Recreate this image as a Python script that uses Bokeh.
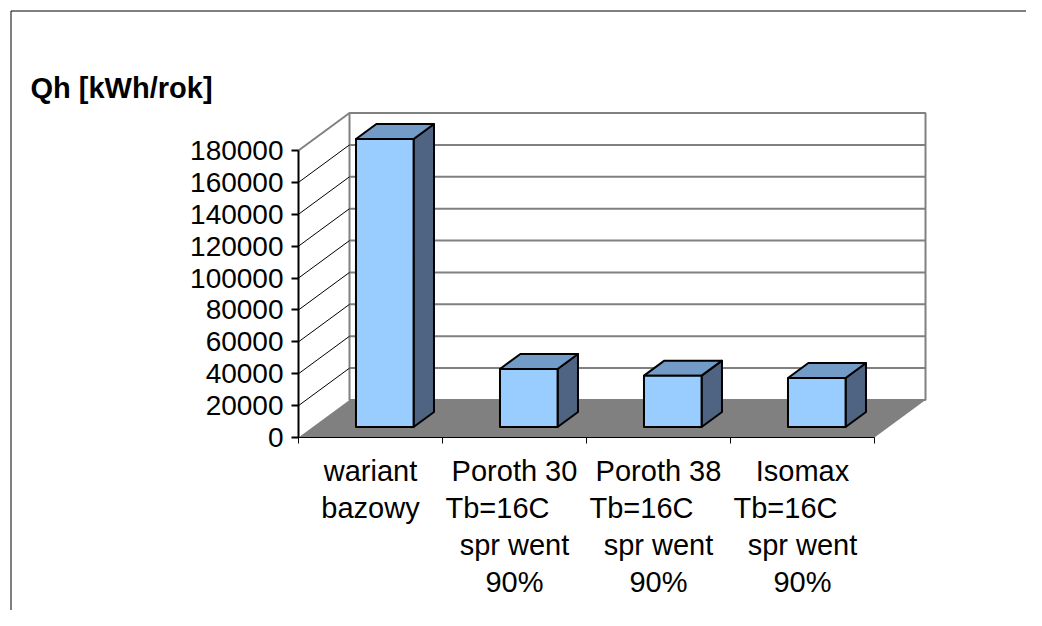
from bokeh.plotting import figure
from bokeh.models import Range1d, FixedTicker, BasicTickFormatter, ColumnDataSource
from bokeh.core.properties import value
from bokeh.embed import file_html
from bokeh.resources import INLINE

# ---------------- data ----------------
category_lines = [
    ["wariant", "bazowy"],
    ["Poroth 30", "Tb=16C", "spr went", "90%"],
    ["Poroth 38", "Tb=16C", "spr went", "90%"],
    ["Isomax", "Tb=16C", "spr went", "90%"],
]
values = [180600, 36400, 32200, 30700]
y_ticks = [0, 20000, 40000, 60000, 80000, 100000, 120000, 140000, 160000, 180000]
y_title = "Qh [kWh/rok]"

# ---------------- geometry / style ----------------
FONT = "Liberation Sans"
W, H = 1026, 610
X0, Y0 = 298.0, 437.0          # pixel position of the value/category origin
CAT_PX = 144.0                 # pixels per category
UNIT_PX = 287.0 / 180000.0     # pixels per value unit
DEPTH_PX = (51.0, 37.5)        # 3d depth offset in pixels
TEXT_FIX = -10.0               # baseline correction for text glyphs (px)

n = len(values)
y_max = y_ticks[-1]
DX = DEPTH_PX[0] / CAT_PX
DY = DEPTH_PX[1] / UNIT_PX


def px_x(px):
    return (px - X0) / CAT_PX


def px_y(px):
    return (Y0 - px) / UNIT_PX


FRONT_C = "#99CCFF"
TOP_C = "#739BC8"
SIDE_C = "#4F6482"
WALL_LINE = "#808080"
FLOOR_C = "#808080"

p = figure(width=W, height=H,
           x_range=Range1d(px_x(0), px_x(W)), y_range=Range1d(px_y(H), px_y(0)),
           output_backend="svg", toolbar_location=None,
           min_border=0, min_border_left=0, min_border_right=0,
           min_border_top=0, min_border_bottom=0)
p.outline_line_color = None
p.xgrid.visible = False
p.ygrid.visible = False
p.background_fill_color = "white"
p.border_fill_color = "white"

# chart border (top & left)
p.line(x=[px_x(10.5), px_x(10.5), px_x(W + 5)], y=[px_y(H + 5), px_y(10.5), px_y(10.5)],
       line_color="black", line_width=1)

# back wall
p.quad(left=DX, right=n + DX, bottom=DY, top=y_max + DY,
       fill_color="white", line_color=WALL_LINE, line_width=2)
p.multi_line(xs=[[DX, n + DX] for v in y_ticks[1:-1]],
             ys=[[v + DY, v + DY] for v in y_ticks[1:-1]],
             line_color=WALL_LINE, line_width=2)
# side wall diagonals
p.multi_line(xs=[[0, DX] for v in y_ticks[1:-1]],
             ys=[[v, v + DY] for v in y_ticks[1:-1]],
             line_color="black", line_width=1)
p.line(x=[0, DX], y=[y_max, y_max + DY], line_color=WALL_LINE, line_width=2)
# floor
p.patch(x=[0, n, n + DX, DX], y=[0, 0, DY, DY], fill_color=FLOOR_C, line_color=None)

# bars
HW = 0.2
D0, D1 = 0.28, 0.68
for i, v in enumerate(values):
    c = i + 0.5
    xl0, xr0 = c - HW + D0 * DX, c + HW + D0 * DX
    xl1, xr1 = c - HW + D1 * DX, c + HW + D1 * DX
    y0b, y1b = D0 * DY, D1 * DY
    p.patch(x=[xr0, xr1, xr1, xr0], y=[y0b, y1b, v + y1b, v + y0b],
            fill_color=SIDE_C, line_color="black", line_width=2, line_join="round")
    p.patch(x=[xl0, xr0, xr1, xl1], y=[v + y0b, v + y0b, v + y1b, v + y1b],
            fill_color=TOP_C, line_color="black", line_width=2, line_join="round")
    p.quad(left=xl0, right=xr0, bottom=y0b, top=v + y0b,
           fill_color=FRONT_C, line_color="black", line_width=2, line_join="round")

# y axis (drawn at the front-left edge of the 3d box)
ya = p.yaxis[0]
ya.fixed_location = 0
ya.bounds = (0, y_max)
ya.ticker = FixedTicker(ticks=y_ticks, minor_ticks=[])
ya.formatter = BasicTickFormatter(use_scientific=False)
ya.axis_line_width = 2
ya.axis_line_color = "black"
ya.major_tick_line_width = 2
ya.major_tick_out = 7
ya.major_tick_in = 0
ya.minor_tick_line_color = None
ya.major_label_standoff = 8
ya.major_label_text_font = FONT
ya.major_label_text_font_size = "28px"
ya.major_label_text_color = "black"

# x axis (category separators)
xa = p.xaxis[0]
xa.fixed_location = 0
xa.bounds = (0, n)
xa.ticker = FixedTicker(ticks=list(range(n + 1)), minor_ticks=[])
xa.major_label_overrides = {k: "" for k in range(n + 1)}
xa.major_label_text_font_size = "1px"
xa.axis_line_color = "black"
xa.axis_line_width = 1
xa.major_tick_out = 6
xa.major_tick_in = 0
xa.minor_tick_line_color = None

# category labels (wrapped lines under each category)
LINE_PX = 36.8
FIRST_PX = 43.7 + TEXT_FIX
lx, ly, lt = [], [], []
for i, lines in enumerate(category_lines):
    for k, t in enumerate(lines):
        shift = -17.0 if t.startswith("Tb=") else 0.0
        lx.append(i + 0.5 + shift / CAT_PX)
        ly.append(-(FIRST_PX + k * LINE_PX) / UNIT_PX)
        lt.append(t)
src = ColumnDataSource(dict(x=lx, y=ly, text=lt))
p.text(x="x", y="y", text="text", source=src,
       text_align="center", text_baseline="alphabetic",
       text_font=value(FONT), text_font_size=value("29px"), text_color="black")

# value axis title
p.text(x=[px_x(30)], y=[px_y(97 + TEXT_FIX)], text=[y_title],
       text_align="left", text_baseline="alphabetic",
       text_font=value(FONT), text_font_size=value("29px"), text_font_style="bold",
       text_color="black")

open("out.html", "w").write(file_html(p, INLINE))
